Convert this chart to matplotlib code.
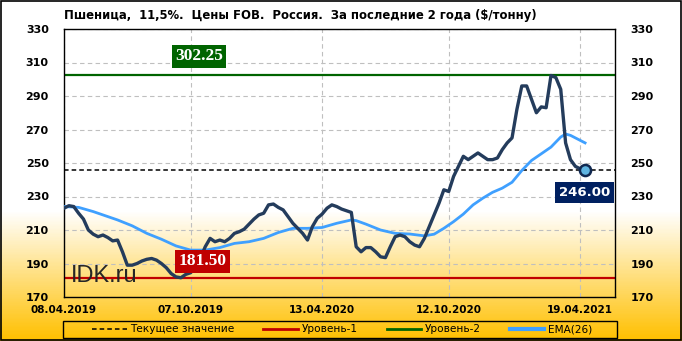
import numpy as np
import pandas as pd
import matplotlib
matplotlib.use("Agg")
import matplotlib.pyplot as plt
from matplotlib.colors import LinearSegmentedColormap
from matplotlib.patches import Rectangle
from matplotlib.lines import Line2D

# ---------------- data (weekly prices, $/t) ----------------
start_date = "2019-04-08"
prices = [
    223, 224.5, 224, 220, 216.5, 210, 207.5, 206, 207, 205.5,
    203.5, 204, 197, 189, 189, 190, 191.5, 192.5, 193, 192,
    190, 187.5, 184, 182, 181.5, 183.5, 184.5, 188, 193, 200,
    205, 203, 204, 203, 205, 208, 209, 210.5, 213.5, 216.5,
    219, 220, 225, 225.5, 223.5, 222, 218, 214, 211, 208,
    204, 212, 217, 219.5, 223, 225, 224, 222.5, 221.5, 220.5,
    200, 197, 199.5, 199.5, 197, 194, 193.5, 200, 206, 207,
    206, 203, 201, 200, 205, 212, 219, 226, 234, 233,
    242, 248, 254, 252, 254, 256, 254, 252, 252, 253,
    258, 262, 265, 282, 296, 296, 288, 280, 283.5, 283,
    302.25, 301, 294, 262, 252, 248, 246.5, 246,
]

ema_weeks = [0, 3, 6, 8, 11, 14, 17, 20, 23, 26, 29, 32, 35, 38, 41, 44, 47, 50,
             53, 56, 59, 60, 62, 65, 68, 71, 74, 76, 78, 80, 82, 84, 86, 88, 90,
             92, 94, 96, 98, 100, 102, 103, 104, 106, 107]
ema_values = [224, 223.5, 221, 219, 216, 212.5, 208, 204.5, 200.5, 198, 198, 199.5,
              202, 203, 205, 208.5, 211, 211, 211.5, 214, 216, 215.6, 213.5, 210,
              208, 207.6, 206.5, 207.5, 211, 215, 219.5, 225, 229, 232.5, 235,
              238.5, 245.5, 251.5, 255.5, 259.5, 265.5, 267.3, 266.5, 263.5, 262]

level_1 = 181.50
level_2 = 302.25
current = 246.00

tick_dates = ["2019-04-08", "2019-10-07", "2020-04-13", "2020-10-12", "2021-04-19"]
tick_labels = ["08.04.2019", "07.10.2019", "13.04.2020", "12.10.2020", "19.04.2021"]
y_ticks = [170, 190, 210, 230, 250, 270, 290, 310, 330]

title = "Пшеница,  11,5%.  Цены FOB.  Россия.  За последние 2 года ($/тонну)"

# ---------------- figure ----------------
dates = pd.date_range(start_date, periods=len(prices), freq="7D")
ema_dates = dates[ema_weeks]

fig = plt.figure(figsize=(6.82, 3.41), dpi=100)

# background gradient: white on top, gold at the bottom
bg = fig.add_axes([0, 0, 1, 1], zorder=-5)
grad_cmap = LinearSegmentedColormap.from_list(
    "bg", [(0.0, "#FFFFFF"), (0.62, "#FFFFFF"), (1.0, "#FFC000")])
bg.imshow(np.linspace(0, 1, 341).reshape(-1, 1), aspect="auto", cmap=grad_cmap,
          extent=[0, 1, 0, 1])
bg.set_axis_off()
fig.patches.append(Rectangle((0.001, 0.002), 0.997, 0.995, transform=fig.transFigure,
                             fill=False, edgecolor="black", linewidth=1.2))

ax = fig.add_axes([64 / 682, 1 - 297 / 341, 551 / 682, 268 / 341])
ax.set_facecolor("none")

ax.axhline(current, color="black", linestyle=(0, (3, 2)), linewidth=1.1, zorder=2)
ax.axhline(level_1, color="#C00000", linewidth=1.6, zorder=2)
ax.axhline(level_2, color="#006400", linewidth=1.6, zorder=2)
ax.plot(ema_dates, ema_values, color="#3FA0FF", linewidth=2.0, zorder=3)
ax.plot(dates, prices, color="#243C5C", linewidth=2.4, zorder=4,
        solid_joinstyle="round")
ax.plot(dates[-1:], prices[-1:], marker="o", markersize=8, color="#5FB4E0",
        markeredgecolor="#102850", markeredgewidth=1.8, zorder=5, linestyle="none")

ax.set_xlim(dates[0], dates[0] + pd.Timedelta(days=792))
ax.set_ylim(170, 330)
ax.set_yticks(y_ticks)
ax.set_xticks(pd.to_datetime(tick_dates))
ax.set_xticklabels(tick_labels)
ax.grid(True, color="#BFBFBF", linestyle=(0, (4, 3)), linewidth=0.8)
ax.set_axisbelow(True)
ax.tick_params(axis="y", length=0, pad=11, labelright=True, labelsize=8)
ax.tick_params(axis="x", length=0, pad=6, labelsize=7.5)
for lbl in ax.get_xticklabels():
    lbl.set_fontweight("bold")
for t in ax.yaxis.get_major_ticks():
    t.label1.set_fontweight("bold")
    t.label2.set_fontweight("bold")
for sp in ax.spines.values():
    sp.set_linewidth(1.0)
    sp.set_color("black")

# value boxes
ax.text(0.245, 0.899, "302.25", transform=ax.transAxes, ha="center", va="center",
        color="white", fontsize=12.5, fontweight="bold", family="Liberation Serif",
        bbox=dict(boxstyle="square,pad=0.2", facecolor="#006400", edgecolor="none"), zorder=6)
ax.text(0.252, 0.133, "181.50", transform=ax.transAxes, ha="center", va="center",
        color="white", fontsize=12.5, fontweight="bold", family="Liberation Serif",
        bbox=dict(boxstyle="square,pad=0.2", facecolor="#C00000", edgecolor="none"), zorder=6)
ax.text(0.945, 0.389, "246.00", transform=ax.transAxes, ha="center", va="center",
        color="white", fontsize=9.5, fontweight="bold",
        bbox=dict(boxstyle="square,pad=0.3", facecolor="#002060", edgecolor="none"), zorder=6)

ax.text(0.0127, 0.056, "IDK.ru", transform=ax.transAxes, ha="left", va="baseline",
        fontsize=17, family="Liberation Sans", color="#262626", zorder=6)

fig.text(64 / 682, 1 - 15 / 341, title, ha="left", va="center", fontsize=8.4,
         fontweight="bold")

# legend: entries centred, with its own box across the plot width
handles = [
    Line2D([], [], color="black", linestyle=(0, (3, 2)), linewidth=1.1),
    Line2D([], [], color="#C00000", linewidth=2),
    Line2D([], [], color="#006400", linewidth=2),
    Line2D([], [], color="#3FA0FF", linewidth=3),
]
names = ["Текущее значение", "Уровень-1", "Уровень-2", "EMA(26)"]
fig.legend(handles, names, loc="center", ncol=4,
           bbox_to_anchor=(342 / 682, 1 - 329.5 / 341),
           frameon=False, fontsize=7.6, handlelength=3.3,
           handletextpad=0.3, columnspacing=2.75, borderaxespad=0)
fig.patches.append(Rectangle((63 / 682, 1 - 338.3 / 341), 554 / 682, 17.6 / 341,
                             transform=fig.transFigure, fill=False,
                             edgecolor="black", linewidth=1.0))

fig.savefig("out.png", dpi=100)
